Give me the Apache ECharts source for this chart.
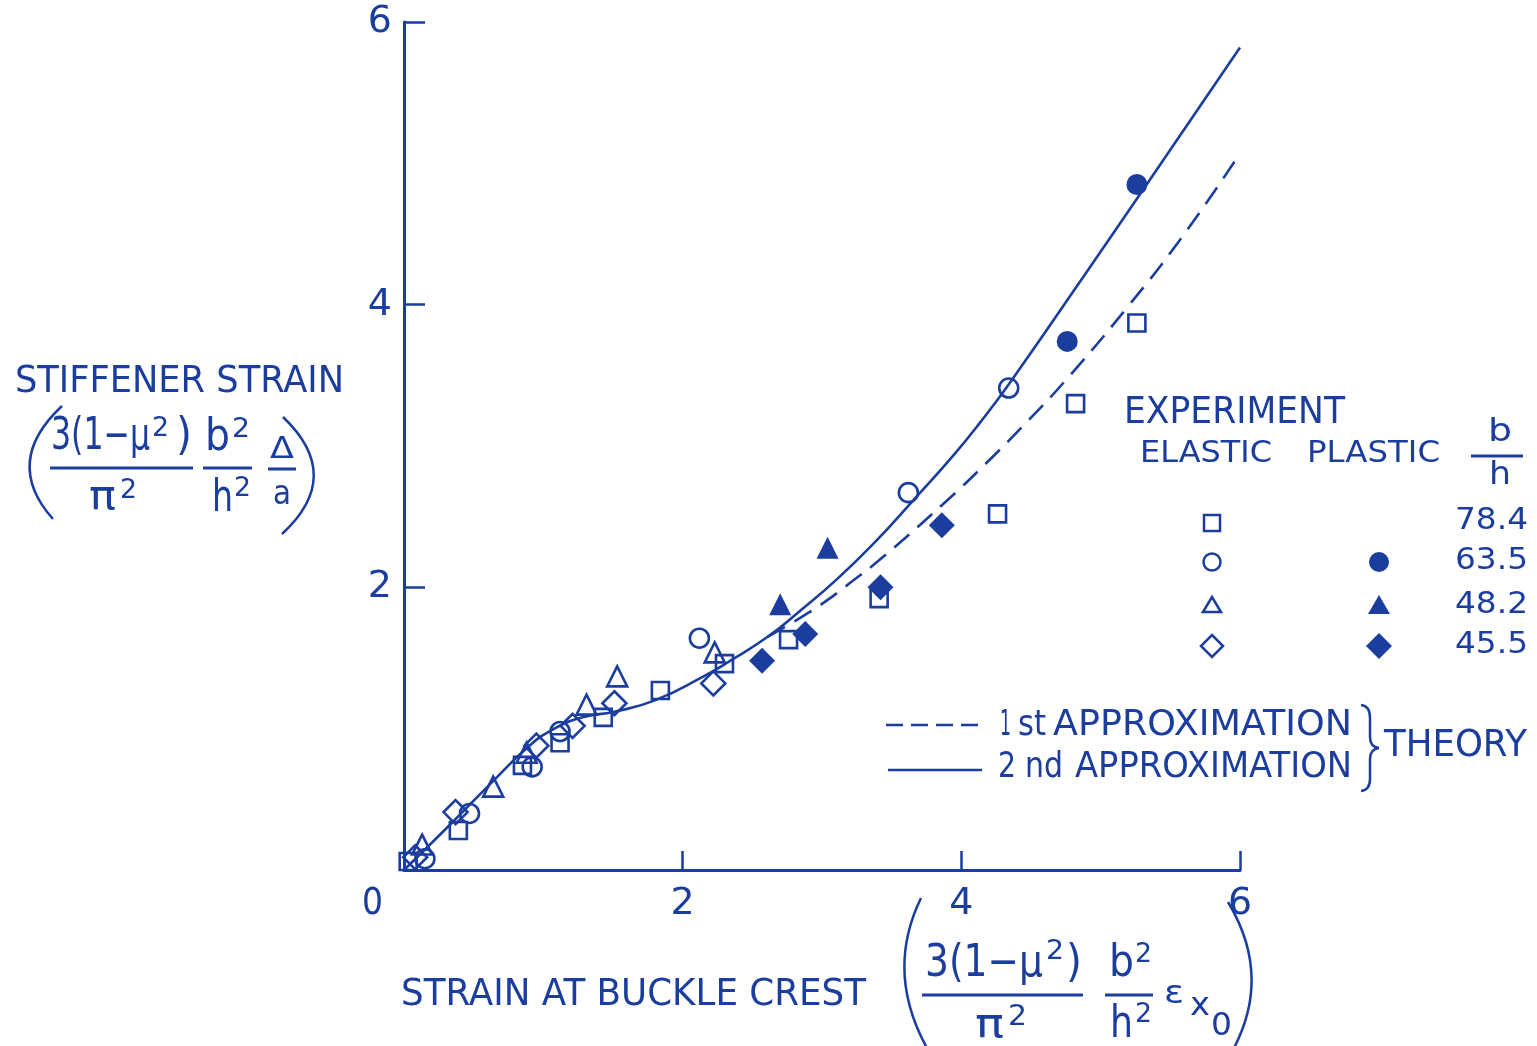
<!DOCTYPE html>
<html>
<head>
<meta charset="utf-8">
<title>Stiffener strain vs strain at buckle crest</title>
<script src="https://cdn.jsdelivr.net/npm/echarts@6/dist/echarts.min.js"></script>
<style>
  html, body { margin: 0; padding: 0; background: #ffffff; }
  #chart { width: 1537px; height: 1046px; }
</style>
</head>
<body>
<div id="chart"></div>
<script>
// ---- data: [strain at buckle crest, stiffener strain] ----
// elastic tests
const elasticSquare78 = [[0.03,0.06],[0.39,0.28],[0.85,0.74],[1.12,0.90],[1.43,1.08],[1.84,1.27],[2.30,1.46],[2.76,1.63],[3.41,1.92],[4.26,2.52],[4.82,3.30],[5.26,3.87]];
const elasticCircle63 = [[0.15,0.08],[0.47,0.40],[0.92,0.73],[1.12,0.98],[2.12,1.64],[3.62,2.67],[4.34,3.41]];
const elasticTriangle48 = [[0.13,0.18],[0.64,0.59],[0.88,0.83],[1.31,1.17],[1.53,1.37],[2.23,1.54]];
const elasticDiamond45 = [[0.08,0.09],[0.37,0.41],[0.95,0.88],[1.21,1.02],[1.51,1.18],[2.22,1.32]];
// plastic tests
const plasticCircle63 = [[4.76,3.74],[5.26,4.85]];
const plasticTriangle48 = [[2.70,1.88],[3.04,2.28]];
const plasticDiamond45 = [[2.57,1.48],[2.88,1.67],[3.42,2.00],[3.86,2.44]];
// theory curves
const secondApprox = [[0,0],[0.33,0.32],[0.65,0.64],[0.89,0.87],[1.06,0.99],[1.28,1.08],[1.51,1.12],[1.80,1.20],[2.15,1.37],[2.34,1.48],[2.61,1.65],[2.85,1.84],[3.11,2.06],[3.38,2.32],[3.65,2.61],[3.94,2.93],[4.13,3.16],[4.35,3.45],[4.85,4.16],[5.33,4.85],[6.0,5.82]];
const firstApprox = [[2.61,1.65],[2.82,1.77],[3.01,1.89],[3.20,2.03],[3.42,2.20],[3.87,2.59],[4.18,2.88],[4.48,3.18],[4.78,3.50],[5.19,3.98],[5.57,4.46],[6.0,5.07]];
// axes
const xTicks = [0, 2, 4, 6];
const yTicks = [0, 2, 4, 6];
const ratioLabels = ['78.4', '63.5', '48.2', '45.5'];

const INK = '#1b3d9e';
const FAMILY = '"DejaVu Sans", "Liberation Sans", sans-serif';

const ctx = document.createElement('canvas').getContext('2d');
function measure(str, size) {
  ctx.font = size + 'px ' + FAMILY;
  return ctx.measureText(str).width;
}
// text placed with its left edge at x0 and stretched to end at x1
function txt(str, x0, x1, cy, size) {
  const w = measure(str, size);
  return {
    type: 'text', x: x0, y: cy, silent: true,
    scaleX: x1 ? (x1 - x0) / w : 1,
    style: { text: str, fontSize: size, fontFamily: FAMILY, fill: INK,
             textAlign: 'left', textVerticalAlign: 'middle', align: 'left', verticalAlign: 'middle' }
  };
}
function seg(x1, y1, x2, y2, w) {
  return { type: 'line', silent: true, shape: { x1: x1, y1: y1, x2: x2, y2: y2 },
           style: { stroke: INK, lineWidth: w || 3 } };
}
function bar(x1, x2, y) { return seg(x1, y, x2, y, 3); }
function curve(x1, y1, cx, cy, x2, y2) {
  return { type: 'bezierCurve', silent: true,
           shape: { x1: x1, y1: y1, cpx1: cx, cpy1: cy, x2: x2, y2: y2 },
           style: { stroke: INK, lineWidth: 2.5, fill: null } };
}
const openStyle = { color: 'rgba(255,255,255,0)', borderColor: INK, borderWidth: 2.6, opacity: 1 };
const fillStyle = { color: INK, opacity: 1 };

const graphics = [
  // origin label
  txt('0', 362, 383, 904, 38),

  // y axis title
  txt('STIFFENER STRAIN', 15, 344, 382, 37),
  curve(62, 406, 2, 462, 53, 519),
  txt('3(1\u2212\u03BC', 51, 150, 438, 44),
  txt('2', 152, 169, 429, 26),
  txt(')', 176, 192, 438, 44),
  bar(50, 193, 468),
  txt('\u03C0', 89, 116, 499, 40),
  txt('2', 120, 137, 491, 26),
  txt('b', 205, 230, 439, 44),
  txt('2', 232, 250, 430, 26),
  bar(203, 252, 468),
  txt('h', 212, 233, 500, 44),
  txt('2', 234, 251, 489, 26),
  txt('\u0394', 270, 294, 450, 30),
  bar(268, 296, 469),
  txt('a', 273, 291, 495, 34),
  curve(283, 417, 345, 476, 282, 534),

  // x axis title
  txt('STRAIN AT BUCKLE CREST', 401, 866, 995, 37),
  curve(921, 898, 885, 972, 927, 1048),
  txt('3(1\u2212\u03BC', 925, 1043, 965, 44),
  txt('2', 1046, 1064, 952, 26),
  txt(')', 1066, 1082, 965, 44),
  bar(922, 1083, 995),
  txt('\u03C0', 975, 1004, 1027, 40),
  txt('2', 1008, 1027, 1018, 28),
  txt('b', 1109, 1134, 965, 44),
  txt('2', 1135, 1152, 955, 26),
  bar(1105, 1153, 995),
  txt('h', 1110, 1133, 1026, 44),
  txt('2', 1135, 1152, 1015, 26),
  txt('\u03B5', 1164, 1184, 995, 32),
  txt('x', 1190, 1210, 1007, 32),
  txt('0', 1211, 1232, 1027, 32),
  curve(1228, 902, 1272, 975, 1234, 1048),

  // experiment key
  txt('EXPERIMENT', 1124, 1345, 413, 37),
  txt('ELASTIC', 1140, 1272, 454, 31),
  txt('PLASTIC', 1307, 1440, 454, 31),
  txt('b', 1488, 1512, 433, 32),
  bar(1471, 1523, 456),
  txt('h', 1489, 1511, 476, 32),
  txt(ratioLabels[0], 1455, 1528, 521, 31),
  txt(ratioLabels[1], 1455, 1528, 561, 31),
  txt(ratioLabels[2], 1455, 1528, 605, 31),
  txt(ratioLabels[3], 1455, 1528, 645, 31),
  { type: 'rect', silent: true, shape: { x: 1204, y: 515, width: 16, height: 16 },
    style: { fill: null, stroke: INK, lineWidth: 2.5 } },
  { type: 'circle', silent: true, shape: { cx: 1212, cy: 562, r: 8.5 },
    style: { fill: null, stroke: INK, lineWidth: 2.5 } },
  { type: 'polygon', silent: true, shape: { points: [[1212, 597], [1203, 612], [1221, 612]] },
    style: { fill: null, stroke: INK, lineWidth: 2.5 } },
  { type: 'polygon', silent: true, shape: { points: [[1212, 635], [1223, 646], [1212, 657], [1201, 646]] },
    style: { fill: null, stroke: INK, lineWidth: 2.5 } },
  { type: 'circle', silent: true, shape: { cx: 1379, cy: 562, r: 10 }, style: { fill: INK } },
  { type: 'polygon', silent: true, shape: { points: [[1379, 595], [1368, 614], [1390, 614]] },
    style: { fill: INK } },
  { type: 'polygon', silent: true, shape: { points: [[1379, 633], [1392, 646], [1379, 659], [1366, 646]] },
    style: { fill: INK } },

  // theory key
  { type: 'line', silent: true, shape: { x1: 886, y1: 725, x2: 980, y2: 725 },
    style: { stroke: INK, lineWidth: 2.5, lineDash: [17, 8] } },
  seg(888, 770, 982, 770, 2.5),
  txt('1', 1000, 1011, 726, 36),
  txt('st', 1018, 1046, 726, 36),
  txt('APPROXIMATION', 1053, 1352, 726, 36),
  txt('2', 998, 1016, 768, 36),
  txt('nd', 1025, 1063, 768, 36),
  txt('APPROXIMATION', 1075, 1352, 768, 36),
  // brace
  curve(1361, 705, 1370, 706, 1370, 718),
  seg(1370, 718, 1370, 737, 2.5),
  curve(1370, 737, 1370, 747, 1379, 748),
  curve(1379, 748, 1370, 749, 1370, 759),
  seg(1370, 759, 1370, 779, 2.5),
  curve(1370, 779, 1370, 790, 1361, 791),
  txt('THEORY', 1384, 1527, 746, 37)
];

const chart = echarts.init(document.getElementById('chart'), null, { renderer: 'canvas' });
chart.setOption({
  backgroundColor: '#ffffff',
  animation: false,
  grid: { left: 404, right: 297, top: 22, bottom: 176, containLabel: false },
  xAxis: {
    type: 'value', min: xTicks[0], max: xTicks[xTicks.length - 1], interval: 2,
    axisLine: { lineStyle: { color: INK, width: 3 } },
    axisTick: { inside: true, length: 19, lineStyle: { color: INK, width: 2.5 } },
    splitLine: { show: false },
    axisLabel: { color: INK, fontSize: 38, fontFamily: FAMILY, margin: 15,
                 formatter: v => (v === 0 ? '' : String(v)) }
  },
  yAxis: {
    type: 'value', min: yTicks[0], max: yTicks[yTicks.length - 1], interval: 2,
    axisLine: { lineStyle: { color: INK, width: 3 } },
    axisTick: { inside: true, length: 21, lineStyle: { color: INK, width: 2.5 } },
    splitLine: { show: false },
    axisLabel: { color: INK, fontSize: 38, fontFamily: FAMILY, margin: 12,
                 formatter: v => (v === 0 ? '' : String(v)) }
  },
  series: [
    { name: '2nd approximation', type: 'line', data: secondApprox, smooth: 0.5,
      showSymbol: false, lineStyle: { color: INK, width: 2.6 }, z: 2 },
    { name: '1st approximation', type: 'line', data: firstApprox, smooth: 0.5,
      showSymbol: false, lineStyle: { color: INK, width: 2.6, type: [20, 11] }, z: 2 },
    { name: 'elastic 78.4', type: 'scatter', data: elasticSquare78, symbol: 'rect', symbolSize: 17, itemStyle: openStyle, z: 3 },
    { name: 'elastic 63.5', type: 'scatter', data: elasticCircle63, symbol: 'circle', symbolSize: 19, itemStyle: openStyle, z: 3 },
    { name: 'elastic 48.2', type: 'scatter', data: elasticTriangle48, symbol: 'triangle', symbolSize: 20, itemStyle: openStyle, z: 3 },
    { name: 'elastic 45.5', type: 'scatter', data: elasticDiamond45, symbol: 'diamond', symbolSize: 24, itemStyle: openStyle, z: 3 },
    { name: 'plastic 63.5', type: 'scatter', data: plasticCircle63, symbol: 'circle', symbolSize: 21, itemStyle: fillStyle, z: 3 },
    { name: 'plastic 48.2', type: 'scatter', data: plasticTriangle48, symbol: 'triangle', symbolSize: 22, itemStyle: fillStyle, z: 3 },
    { name: 'plastic 45.5', type: 'scatter', data: plasticDiamond45, symbol: 'diamond', symbolSize: 26, itemStyle: fillStyle, z: 3 }
  ],
  graphic: graphics
});
</script>
</body>
</html>
